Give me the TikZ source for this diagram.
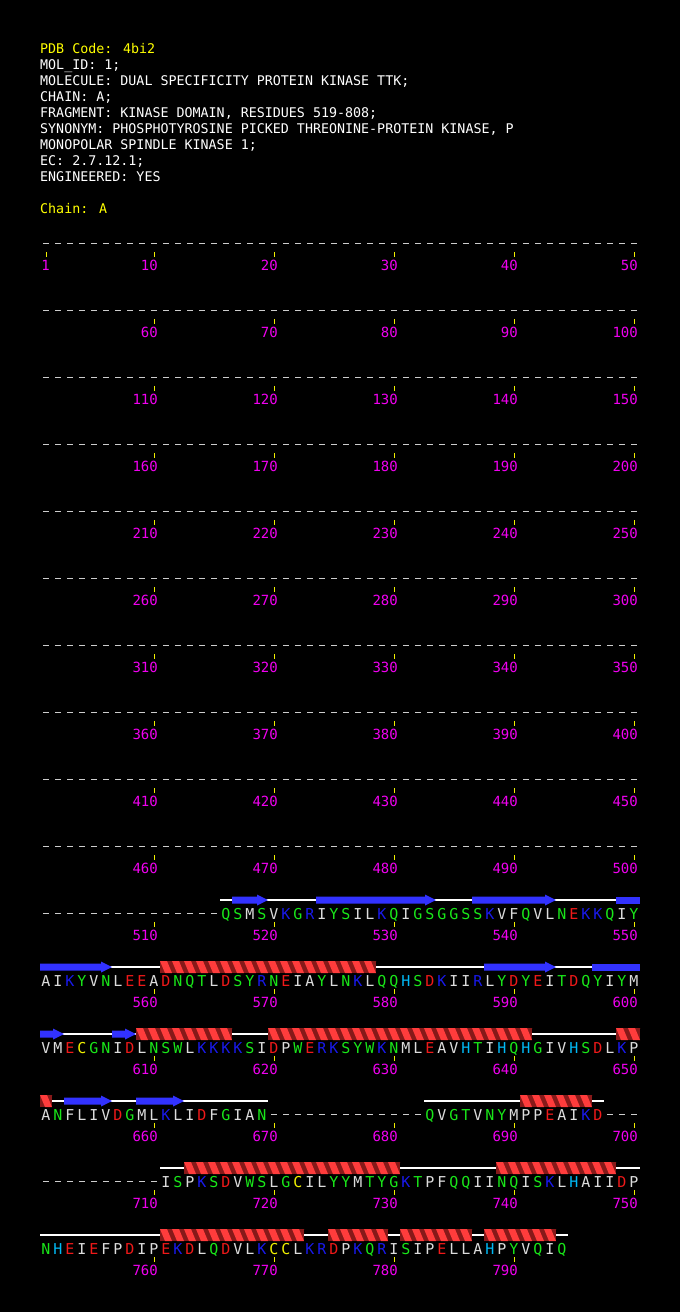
\documentclass[tikz,border=0pt]{standalone}
\usepackage{fontspec}
\newfontfamily\monof{DejaVu Sans Mono}
\newcommand\hdrfont{\monof\fontsize{13.33}{16}\selectfont}
\newcommand\seqfont{\monof\fontsize{15}{16}\selectfont}
\newcommand\numfont{\monof\fontsize{14}{16}\selectfont}
\definecolor{hyd}{RGB}{220,220,220}
\definecolor{polc}{RGB}{25,230,25}
\definecolor{posc}{RGB}{25,25,235}
\definecolor{negc}{RGB}{240,25,25}
\definecolor{hisc}{RGB}{0,185,245}
\definecolor{cysc}{RGB}{240,240,0}
\definecolor{magc}{RGB}{240,0,240}
\definecolor{ticky}{RGB}{240,240,0}
\definecolor{hdry}{RGB}{255,255,0}
\definecolor{dashc}{RGB}{205,205,205}
\definecolor{strandc}{RGB}{50,50,255}
\definecolor{hlight}{RGB}{255,60,60}
\definecolor{hdark}{RGB}{135,25,25}
\colorlet{rcA}{hyd}\colorlet{rcV}{hyd}\colorlet{rcL}{hyd}\colorlet{rcI}{hyd}
\colorlet{rcM}{hyd}\colorlet{rcF}{hyd}\colorlet{rcP}{hyd}
\colorlet{rcS}{polc}\colorlet{rcT}{polc}\colorlet{rcN}{polc}\colorlet{rcQ}{polc}
\colorlet{rcG}{polc}\colorlet{rcY}{polc}\colorlet{rcW}{polc}
\colorlet{rcK}{posc}\colorlet{rcR}{posc}
\colorlet{rcD}{negc}\colorlet{rcE}{negc}
\colorlet{rcH}{hisc}\colorlet{rcC}{cysc}
% secondary structure helpers
\newcommand\mysspos[2]{%
  \pgfmathsetmacro\myxa{40+12*mod(#1-1,50)}%
  \pgfmathsetmacro\myxb{52+12*mod(#2-1,50)}%
  \pgfmathsetmacro\myy{230+67*floor((#1-1)/50)}}
\newcommand\mybackbone[2]{\mysspos{#1}{#2}\draw[ssline] (\myxa,\myy) -- (\myxb,\myy);}
\newcommand\myarrow[2]{\mysspos{#1}{#2}%
  \fill[strandc] (\myxa,\myy-3.5) -- (\myxb-11,\myy-3.5) -- (\myxb-11,\myy-5.5) -- (\myxb,\myy)
   -- (\myxb-11,\myy+5.5) -- (\myxb-11,\myy+3.5) -- (\myxa,\myy+3.5) -- cycle;}
\newcommand\mybar[2]{\mysspos{#1}{#2}%
  \fill[strandc] (\myxa,\myy-3.5) rectangle (\myxb,\myy+3.5);}
\newcommand\myhelix[2]{\mysspos{#1}{#2}%
  \pgfmathtruncatemacro\myhn{#2-#1+1}%
  \begin{scope}
    \clip (\myxa,\myy-6) rectangle (\myxb,\myy+6);
    \fill[hdark] (\myxa,\myy-6) rectangle (\myxb,\myy+6);
    \foreach \k in {-1,...,\myhn}{%
      \fill[hlight] ({\myxa+12*\k},\myy-6) -- ++(7,0) -- ++(5,12) -- ++(-7,0) -- cycle;}
  \end{scope}}
\begin{document}
\begin{tikzpicture}[x=1pt,y=-1pt,
  hdr/.style={anchor=base west,inner sep=0,font=\hdrfont},
  res/.style={anchor=base,inner sep=0,font=\seqfont,text=rc#1},
  numlab/.style={anchor=base east,inner sep=0,font=\numfont,text=magc},
  tickmark/.style={draw=ticky,line width=1pt},
  gapdash/.style={draw=dashc,line width=1.3pt},
  ssline/.style={draw=white,line width=1.2pt}]
\fill[black] (0,0) rectangle (680,1312);
\useasboundingbox (0,0) rectangle (680,1312);
% header
\node[hdr,text=hdry] (h0) at (40,53.3) {PDB Code: 4bi2};
\node[hdr,text=white] (h1) at (40,69.3) {MOL\_ID: 1;};
\node[hdr,text=white] (h2) at (40,85.3) {MOLECULE: DUAL SPECIFICITY PROTEIN KINASE TTK;};
\node[hdr,text=white] (h3) at (40,101.3) {CHAIN: A;};
\node[hdr,text=white] (h4) at (40,117.3) {FRAGMENT: KINASE DOMAIN, RESIDUES 519-808;};
\node[hdr,text=white] (h5) at (40,133.3) {SYNONYM: PHOSPHOTYROSINE PICKED THREONINE-PROTEIN KINASE, P};
\node[hdr,text=white] (h6) at (40,149.3) {MONOPOLAR SPINDLE KINASE 1;};
\node[hdr,text=white] (h7) at (40,165.3) {EC: 2.7.12.1;};
\node[hdr,text=white] (h8) at (40,181.3) {ENGINEERED: YES};
\node[hdr,text=hdry] (h9) at (40,213.3) {Chain: A};
% gap dashes
\foreach \i in {1,...,515}{%
  \pgfmathsetmacro\xx{46+12*mod(\i-1,50)}\pgfmathsetmacro\yy{243.5+67*floor((\i-1)/50)}%
  \draw[gapdash] (\xx-3,\yy) -- (\xx+3,\yy);}
\foreach \i in {670,...,682,698,699,700,701,702,703,704,705,706,707,708,709,710}{%
  \pgfmathsetmacro\xx{46+12*mod(\i-1,50)}\pgfmathsetmacro\yy{243.5+67*floor((\i-1)/50)}%
  \draw[gapdash] (\xx-3,\yy) -- (\xx+3,\yy);}
% ticks and numbers
\draw[tickmark] (46,252) -- (46,256.5);
\node[numlab] (n1) at (50,270) {1};
\foreach \r in {0,...,15}{\foreach \k in {1,...,5}{%
  \pgfmathtruncatemacro\n{50*\r+10*\k}%
  \ifnum\n<795
    \pgfmathsetmacro\tx{34+120*\k}\pgfmathsetmacro\ty{243.5+67*\r}%
    \draw[tickmark] (\tx,\ty+8.5) -- (\tx,\ty+13);
    \node[numlab] (n\n) at (\tx+4,\ty+26.5) {\n};
  \fi}}
% secondary structure
\mybackbone{516}{550}\mybackbone{551}{600}\mybackbone{601}{650}\mybackbone{651}{669}
\mybackbone{683}{697}\mybackbone{711}{750}\mybackbone{751}{794}
\myarrow{517}{519}\myarrow{524}{533}\myarrow{537}{543}\mybar{549}{550}
\myarrow{551}{556}\myarrow{588}{593}\mybar{597}{600}
\myarrow{601}{602}\myarrow{607}{608}\myarrow{653}{656}\myarrow{659}{662}
\myhelix{561}{578}\myhelix{609}{616}\myhelix{620}{641}\myhelix{649}{650}\myhelix{651}{651}
\myhelix{691}{696}\myhelix{713}{730}\myhelix{739}{748}
\myhelix{761}{772}\myhelix{775}{779}\myhelix{781}{786}\myhelix{788}{793}
% residues
\foreach \c [count=\i from 516] in {Q,S,M,S,V,K,G,R,I,Y,S,I,L,K,Q,I,G,S,G,G,S,S,K,V,F,Q,V,L,N,E,K,K,Q,I,Y,
  A,I,K,Y,V,N,L,E,E,A,D,N,Q,T,L,D,S,Y,R,N,E,I,A,Y,L,N,K,L,Q,Q,H,S,D,K,I,I,R,L,Y,D,Y,E,I,T,D,Q,Y,I,Y,M,
  V,M,E,C,G,N,I,D,L,N,S,W,L,K,K,K,K,S,I,D,P,W,E,R,K,S,Y,W,K,N,M,L,E,A,V,H,T,I,H,Q,H,G,I,V,H,S,D,L,K,P,
  A,N,F,L,I,V,D,G,M,L,K,L,I,D,F,G,I,A,N}{%
  \pgfmathsetmacro\xx{46+12*mod(\i-1,50)}\pgfmathsetmacro\yy{249+67*floor((\i-1)/50)}%
  \node[res=\c] (r\i) at (\xx,\yy) {\c};}
\foreach \c [count=\i from 683] in {Q,V,G,T,V,N,Y,M,P,P,E,A,I,K,D}{%
  \pgfmathsetmacro\xx{46+12*mod(\i-1,50)}\pgfmathsetmacro\yy{249+67*floor((\i-1)/50)}%
  \node[res=\c] (r\i) at (\xx,\yy) {\c};}
\foreach \c [count=\i from 711] in {I,S,P,K,S,D,V,W,S,L,G,C,I,L,Y,Y,M,T,Y,G,K,T,P,F,Q,Q,I,I,N,Q,I,S,K,L,H,A,I,I,D,P,
  N,H,E,I,E,F,P,D,I,P,E,K,D,L,Q,D,V,L,K,C,C,L,K,R,D,P,K,Q,R,I,S,I,P,E,L,L,A,H,P,Y,V,Q,I,Q}{%
  \pgfmathsetmacro\xx{46+12*mod(\i-1,50)}\pgfmathsetmacro\yy{249+67*floor((\i-1)/50)}%
  \node[res=\c] (r\i) at (\xx,\yy) {\c};}
\end{tikzpicture}
\end{document}
